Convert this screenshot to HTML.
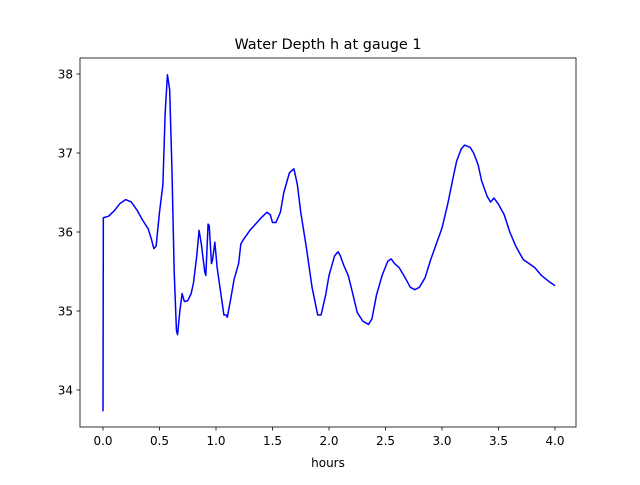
<!DOCTYPE html>
<html><head><meta charset="utf-8"><style>
body{margin:0;background:#fff;}
svg{font-family:"DejaVu Sans","Liberation Sans",sans-serif;}
</style></head><body>
<svg id="chart" width="640" height="480" viewBox="0 0 640 480">
<rect width="640" height="480" fill="#fff"/>
<text x="328" y="49" text-anchor="middle" font-size="14.4">Water Depth h at gauge 1</text>
<g id="plot"></g>
<rect x="80" y="58" width="496" height="369" fill="none" stroke="#000" stroke-width="0.8"/>
<text x="328" y="467" text-anchor="middle" font-size="12">hours</text>
</svg>
<script>
const xTicks=[0,0.5,1,1.5,2,2.5,3,3.5,4];
const yTicks=[34,35,36,37,38];
const hours=[0,0.003,0.05,0.1,0.15,0.2,0.25,0.3,0.35,0.4,0.43,0.45,0.47,0.5,0.53,0.55,0.57,0.59,0.61,0.63,0.65,0.66,0.68,0.7,0.72,0.75,0.78,0.8,0.83,0.85,0.87,0.9,0.91,0.93,0.94,0.96,0.97,0.99,1.01,1.04,1.07,1.09,1.1,1.13,1.16,1.2,1.22,1.25,1.3,1.35,1.4,1.45,1.48,1.5,1.53,1.57,1.6,1.65,1.69,1.72,1.75,1.8,1.85,1.9,1.93,1.97,2.0,2.05,2.08,2.1,2.13,2.17,2.2,2.25,2.3,2.35,2.38,2.42,2.47,2.52,2.55,2.58,2.62,2.67,2.72,2.76,2.8,2.85,2.9,2.95,3.0,3.05,3.1,3.13,3.17,3.2,3.25,3.28,3.32,3.35,3.4,3.43,3.46,3.5,3.55,3.6,3.65,3.68,3.72,3.75,3.82,3.88,3.94,4.0];
const depth=[33.73,36.18,36.2,36.27,36.36,36.41,36.38,36.28,36.15,36.04,35.9,35.79,35.82,36.25,36.6,37.5,37.99,37.8,36.8,35.5,34.75,34.7,35.0,35.22,35.12,35.13,35.22,35.35,35.7,36.02,35.85,35.5,35.45,36.1,36.08,35.6,35.65,35.87,35.55,35.25,34.95,34.95,34.92,35.15,35.4,35.6,35.85,35.92,36.02,36.1,36.18,36.25,36.22,36.12,36.12,36.25,36.5,36.75,36.8,36.6,36.25,35.8,35.3,34.95,34.95,35.2,35.45,35.7,35.75,35.7,35.58,35.45,35.28,34.98,34.87,34.83,34.9,35.2,35.45,35.63,35.66,35.6,35.55,35.43,35.3,35.27,35.3,35.42,35.65,35.85,36.05,36.35,36.7,36.9,37.05,37.1,37.07,37.0,36.85,36.65,36.45,36.38,36.43,36.35,36.22,36.0,35.83,35.75,35.65,35.62,35.55,35.45,35.38,35.32];
const NS="http://www.w3.org/2000/svg";
const xs=v=>103+v*113;
const ys=v=>74+(38-v)*79;
const g=document.getElementById('plot');
xTicks.forEach(t=>{
  const l=document.createElementNS(NS,'line');
  
  
  l.setAttribute('x1',xs(t));l.setAttribute('x2',xs(t));l.setAttribute('y1',427);l.setAttribute('y2',430.5);l.setAttribute('stroke','#000');l.setAttribute('stroke-width','0.8');
  g.appendChild(l);
  const tx=document.createElementNS(NS,'text');
  
  
  tx.setAttribute('x',xs(t));tx.setAttribute('y',445);tx.setAttribute('text-anchor','middle');tx.setAttribute('font-size','12');
  tx.textContent=t.toFixed(1);g.appendChild(tx);
});
yTicks.forEach(t=>{
  const l=document.createElementNS(NS,'line');
  
  
  l.setAttribute('x1',76.5);l.setAttribute('x2',80);l.setAttribute('y1',ys(t));l.setAttribute('y2',ys(t));l.setAttribute('stroke','#000');l.setAttribute('stroke-width','0.8');
  g.appendChild(l);
  const tx=document.createElementNS(NS,'text');
  
  
  tx.setAttribute('x',73);tx.setAttribute('y',ys(t)+4.5);tx.setAttribute('text-anchor','end');tx.setAttribute('font-size','12');
  tx.textContent=t;g.appendChild(tx);
});
const p=document.createElementNS(NS,'polyline');


p.setAttribute('points',hours.map((h,i)=>xs(h)+','+ys(depth[i])).join(' '));
p.setAttribute('fill','none');p.setAttribute('stroke','#0000ff');p.setAttribute('stroke-width','1.5');p.setAttribute('stroke-linejoin','round');
g.appendChild(p);
</script>
</body></html>
